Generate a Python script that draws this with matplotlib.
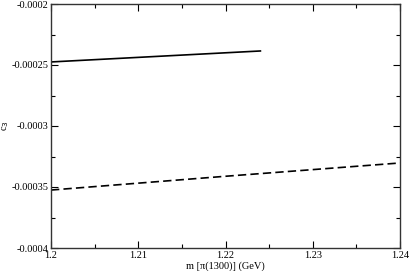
import matplotlib
matplotlib.use('Agg')
import matplotlib.pyplot as plt
from matplotlib.ticker import MultipleLocator

plt.rcParams['font.family'] = ['Liberation Serif', 'DejaVu Serif']

m_solid = [1.200, 1.212, 1.224]
c3_solid = [-0.0002475, -0.0002430, -0.0002385]
m_dash = [1.200, 1.220, 1.240]
c3_dash = [-0.0003525, -0.0003412, -0.0003303]

fig = plt.figure(figsize=(4.09, 2.71), dpi=100)
ax = fig.add_axes([51/409, 23/271, 349/409, 244/271])
ax.plot(m_solid, c3_solid, color='black', lw=1.2)
ax.plot(m_dash, c3_dash, color='black', lw=1.2, ls=(0, (5, 2.5)))

ax.set_xlim(1.2, 1.24)
ax.set_ylim(-0.0004, -0.0002)
ax.xaxis.set_minor_locator(MultipleLocator(0.005))
ax.yaxis.set_minor_locator(MultipleLocator(0.000025))
ax.set_xticks([1.2, 1.21, 1.22, 1.23, 1.24])
ax.set_xticklabels(['1.2', '1.21', '1.22', '1.23', '1.24'])
ax.set_yticks([-0.0004, -0.00035, -0.0003, -0.00025, -0.0002])
ax.set_yticklabels(['-0.0004', '-0.00035', '-0.0003', '-0.00025', '-0.0002'])
ax.tick_params(which='both', direction='in', top=True, right=True, labelsize=7.5, width=0.8)
ax.tick_params(which='major', length=5, pad=2)
ax.tick_params(which='minor', length=3)
for s in ax.spines.values():
    s.set_linewidth(1.0)
    s.set_color('#333333')
ax.set_xlabel('m [\u03c0(1300)] (GeV)', fontsize=7.5, labelpad=1)
ax.set_ylabel('c$_3$', fontsize=7.5)
ax.yaxis.set_label_coords(-40/349, 0.5)

fig.savefig('out.png', dpi=100)
